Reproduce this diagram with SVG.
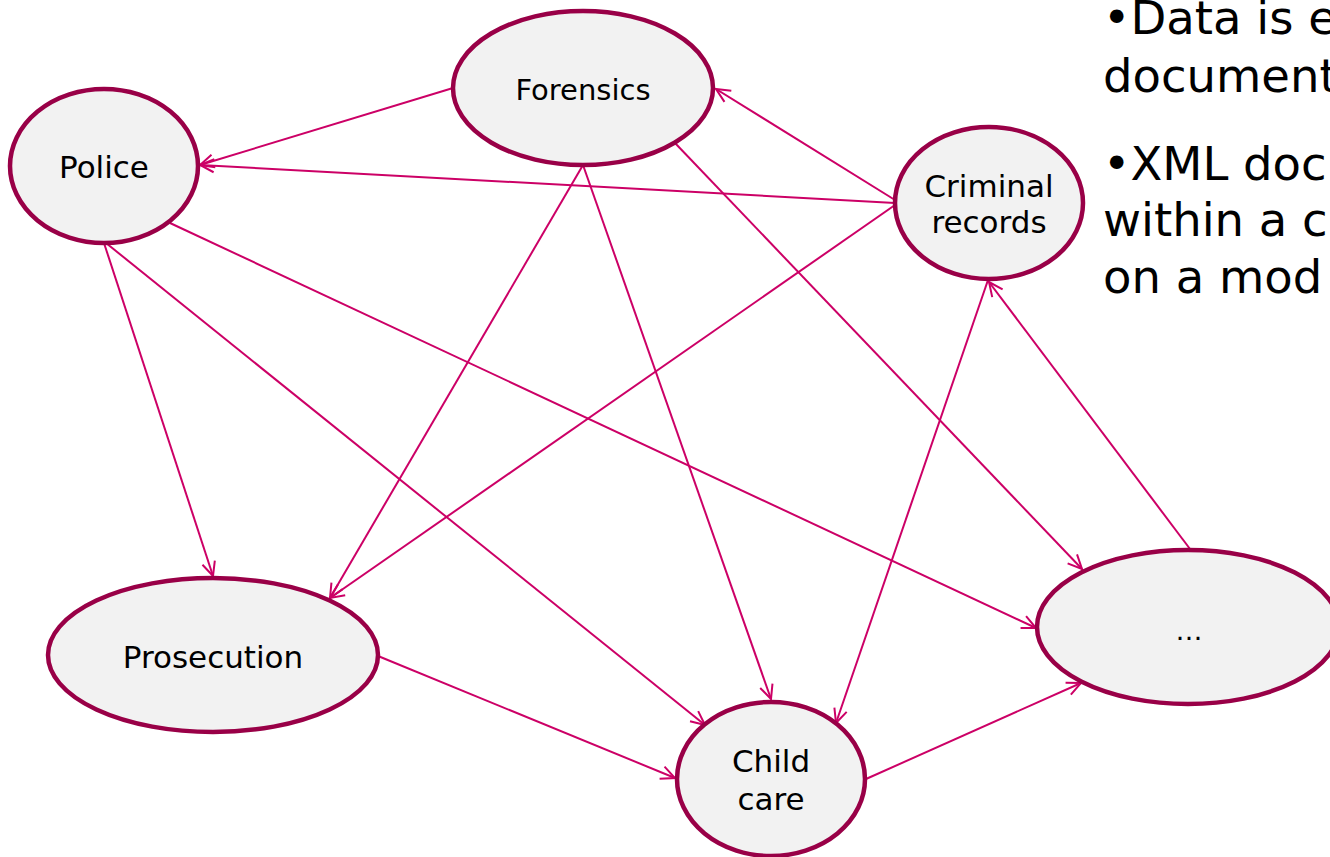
<svg xmlns="http://www.w3.org/2000/svg" width="1330" height="857" viewBox="0 0 1330 857">
<style>
.node ellipse{fill:#f2f2f2;stroke:#990047;stroke-width:4.5}
.node text{font-family:"DejaVu Sans",Verdana,sans-serif;font-size:31px;fill:#000;text-anchor:middle}
.edges line{stroke:#cc0066;stroke-width:2;fill:none;marker-end:url(#arr)}
.body{font-family:"DejaVu Sans",Verdana,sans-serif;font-size:46.5px;fill:#000}
</style>
<defs>
<marker id="arr" markerUnits="userSpaceOnUse" viewBox="-16 -8 18 16" refX="0" refY="0" markerWidth="18" markerHeight="16" orient="auto">
<path d="M-14,-6.5 L0,0 L-14,6.5" fill="none" stroke="#cc0066" stroke-width="2"/>
</marker>
</defs>
<rect width="1330" height="857" fill="#fff"/>
<g class="edges">
<line x1="453" y1="88" x2="200" y2="165"/>
<line x1="895" y1="203" x2="200" y2="165"/>
<line x1="895" y1="200" x2="716" y2="89"/>
<line x1="104" y1="243" x2="213" y2="576"/>
<line x1="106" y1="243" x2="705" y2="725"/>
<line x1="170" y1="223" x2="1036" y2="628"/>
<line x1="583" y1="165" x2="330" y2="598"/>
<line x1="583" y1="165" x2="771" y2="699"/>
<line x1="675" y1="143" x2="1082" y2="569"/>
<line x1="895" y1="205" x2="330" y2="598"/>
<line x1="988" y1="280" x2="836" y2="723"/>
<line x1="1190" y1="549" x2="989" y2="282"/>
<line x1="378" y1="656" x2="675" y2="778"/>
<line x1="866" y1="779" x2="1081" y2="683"/>
</g>
<g id="forensics" class="node"><ellipse cx="583" cy="88" rx="130" ry="77"/><text x="583" y="100" style="font-size:29px">Forensics</text></g>
<g id="police" class="node"><ellipse cx="104" cy="166" rx="94" ry="77"/><text x="104" y="178">Police</text></g>
<g id="criminal" class="node"><ellipse cx="989" cy="203" rx="94" ry="76"/><text x="989" y="197">Criminal</text><text x="989" y="233">records</text></g>
<g id="prosecution" class="node"><ellipse cx="213" cy="655" rx="165" ry="77"/><text x="213" y="668">Prosecution</text></g>
<g id="childcare" class="node"><ellipse cx="771" cy="779" rx="94" ry="77"/><text x="771" y="772">Child</text><text x="771" y="810">care</text></g>
<g id="more" class="node"><ellipse cx="1188" cy="627" rx="151" ry="77"/><text x="1189" y="640" style="font-size:27px">…</text></g>
<g id="bullets">
<text class="body" x="1103" y="34">•Data is e</text>
<text class="body" x="1103" y="92">document</text>
<text class="body" x="1103" y="180">•XML doc</text>
<text class="body" x="1103" y="236">within a c</text>
<text class="body" x="1103" y="293">on a mod</text>
</g>
</svg>
